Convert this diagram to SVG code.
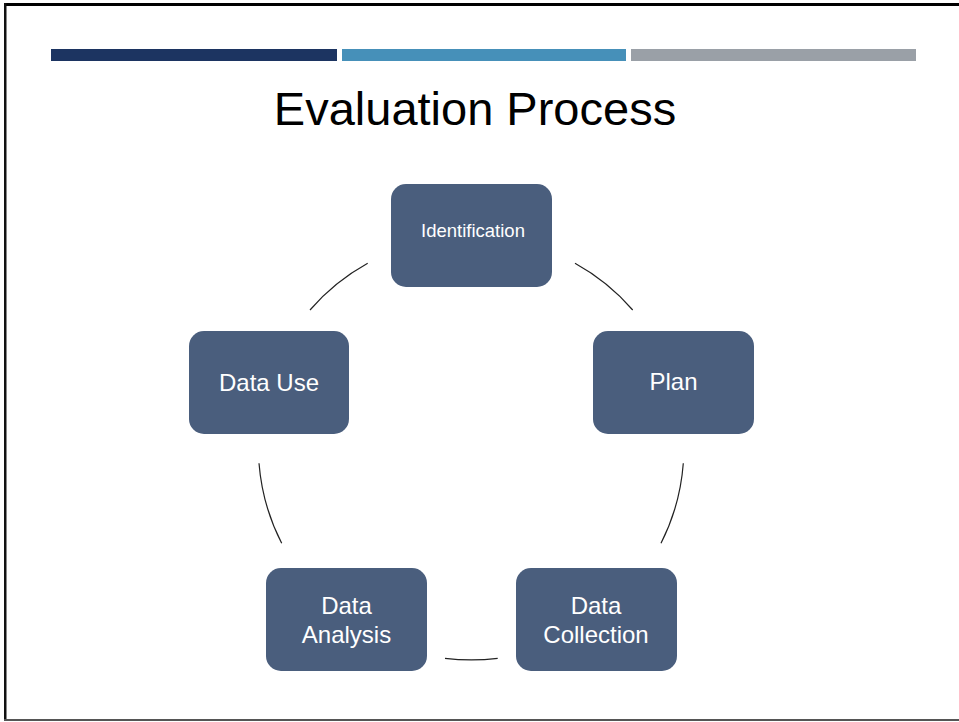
<svg xmlns="http://www.w3.org/2000/svg" width="959" height="722" viewBox="0 0 959 722">
  <style>
    .node rect { fill: #4A5E7D; }
    .node text { fill: #FFFFFF; font-family: "Liberation Sans", Arial, sans-serif; font-size: 24px; text-anchor: middle; }
    .title { fill: #000000; font-family: "Liberation Sans", Arial, sans-serif; font-size: 47px; text-anchor: middle; }
    .arc { fill: none; stroke: #222222; stroke-width: 1.2; }
  </style>
  <rect x="0" y="0" width="959" height="722" fill="#FFFFFF"/>
  <!-- frame -->
  <rect x="4" y="3" width="955" height="3" fill="#000000"/>
  <rect x="4" y="3" width="2.5" height="717" fill="#111111"/>
  <rect x="4" y="719" width="955" height="2" fill="#555555"/>
  <!-- header bars -->
  <rect x="51" y="49" width="286" height="12" fill="#1C3461"/>
  <rect x="342" y="49" width="284" height="12" fill="#4690B9"/>
  <rect x="631" y="49" width="285" height="12" fill="#9AA0A7"/>
  <text class="title" x="475" y="125">Evaluation Process</text>

  <g id="connectors">
    <path class="arc" d="M310,310 A212,212 0 0 1 367.7,263.3"/>
    <path class="arc" d="M575,263.3 A212,212 0 0 1 632.7,310"/>
    <path class="arc" d="M683.3,463.3 A212,212 0 0 1 661,543.3"/>
    <path class="arc" d="M497.7,658.3 A212,212 0 0 1 445,658.3"/>
    <path class="arc" d="M281.7,543.3 A212,212 0 0 1 259,463.3"/>
  </g>

  <g id="identification" class="node">
    <rect x="391" y="184" width="161" height="103" rx="15"/>
    <text x="473" y="237" style="font-size:18.5px">Identification</text>
  </g>
  <g id="plan" class="node">
    <rect x="593" y="331" width="161" height="103" rx="15"/>
    <text x="673.5" y="390">Plan</text>
  </g>
  <g id="data-collection" class="node">
    <rect x="516" y="568" width="161" height="103" rx="15"/>
    <text x="596" y="614">Data</text>
    <text x="596" y="643">Collection</text>
  </g>
  <g id="data-analysis" class="node">
    <rect x="266" y="568" width="161" height="103" rx="15"/>
    <text x="346.5" y="614">Data</text>
    <text x="346.5" y="643">Analysis</text>
  </g>
  <g id="data-use" class="node">
    <rect x="189" y="331" width="160" height="103" rx="15"/>
    <text x="269" y="391">Data Use</text>
  </g>
</svg>
